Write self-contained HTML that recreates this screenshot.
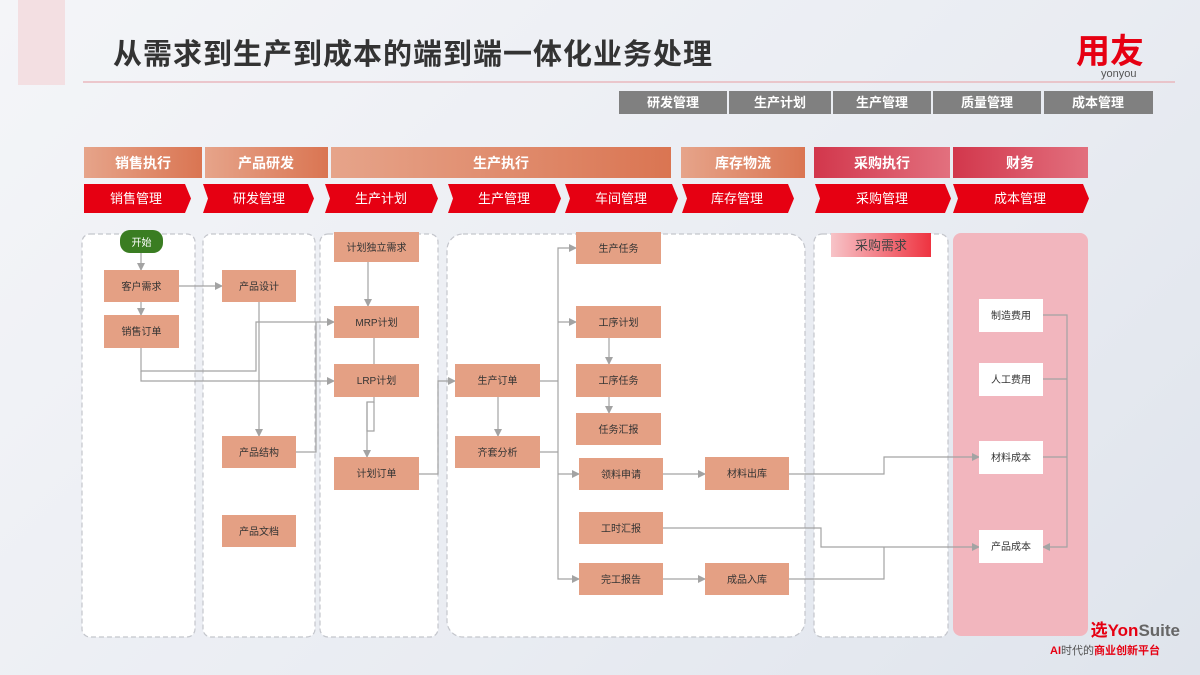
<!DOCTYPE html>
<html><head><meta charset="utf-8"><style>
html,body{margin:0;padding:0;width:1200px;height:675px;overflow:hidden;}
body{background:linear-gradient(135deg,#f4f5f8 0%,#e9ecf2 60%,#dfe4ec 100%);font-family:"Liberation Sans","Noto Sans CJK SC",sans-serif;}
svg text{font-family:"Liberation Sans","Noto Sans CJK SC",sans-serif;}
</style></head><body>
<svg width="1200" height="675" viewBox="0 0 1200 675" xmlns="http://www.w3.org/2000/svg">
<defs>
<linearGradient id="sal" x1="0" x2="1"><stop offset="0" stop-color="#e6a48a"/><stop offset="1" stop-color="#da7552"/></linearGradient>
<linearGradient id="pk" x1="0" x2="1"><stop offset="0" stop-color="#d2374c"/><stop offset="1" stop-color="#e2707e"/></linearGradient>
<linearGradient id="cg" x1="0" x2="1"><stop offset="0" stop-color="#f7c4c8"/><stop offset="1" stop-color="#ee3340"/></linearGradient>
<marker id="a" markerWidth="8" markerHeight="8" refX="7" refY="4" orient="auto" markerUnits="userSpaceOnUse"><path d="M0,0 L8,4 L0,8 z" fill="#a3a3a3"/></marker>
</defs>
<rect x="18" y="0" width="47" height="85" fill="#f3dfe2"/>
<text x="113" y="64" font-size="29" font-weight="bold" fill="#333" textLength="599" lengthAdjust="spacing">从需求到生产到成本的端到端一体化业务处理</text>
<line x1="83" y1="82" x2="1175" y2="82" stroke="#e9b8bd" stroke-width="1.5"/>
<text x="1076" y="63" font-size="34" font-weight="bold" fill="#e60012">用友</text>
<text x="1101" y="77" font-size="11" fill="#555">yonyou</text>
<g fill="#808080">
<rect x="619" y="91" width="108" height="23"/><rect x="729" y="91" width="102" height="23"/><rect x="833" y="91" width="98" height="23"/><rect x="933" y="91" width="108" height="23"/><rect x="1044" y="91" width="109" height="23"/></g>
<g fill="#fff" font-size="13" font-weight="bold" text-anchor="middle">
<text x="673" y="107">研发管理</text><text x="780" y="107">生产计划</text><text x="882" y="107">生产管理</text><text x="987" y="107">质量管理</text><text x="1098" y="107">成本管理</text></g>
<rect x="84" y="147" width="118" height="31" fill="url(#sal)"/><rect x="205" y="147" width="123" height="31" fill="url(#sal)"/><rect x="331" y="147" width="340" height="31" fill="url(#sal)"/><rect x="681" y="147" width="124" height="31" fill="url(#sal)"/><rect x="814" y="147" width="136" height="31" fill="url(#pk)"/><rect x="953" y="147" width="135" height="31" fill="url(#pk)"/>
<g fill="#fff" font-size="14" font-weight="bold" text-anchor="middle">
<text x="143" y="168">销售执行</text><text x="266" y="168">产品研发</text><text x="501" y="168">生产执行</text><text x="743" y="168">库存物流</text><text x="882" y="168">采购执行</text><text x="1020" y="168">财务</text></g>
<g fill="#e60012">
<path d="M84,184 H185 L191,198.5 L185,213 H84 z"/>
<path d="M203,184 H308 L314,198.5 L308,213 H203 L208,198.5 z"/>
<path d="M325,184 H432 L438,198.5 L432,213 H325 L330,198.5 z"/>
<path d="M448,184 H555 L561,198.5 L555,213 H448 L453,198.5 z"/>
<path d="M565,184 H672 L678,198.5 L672,213 H565 L570,198.5 z"/>
<path d="M682,184 H788 L794,198.5 L788,213 H682 L687,198.5 z"/>
<path d="M815,184 H945 L951,198.5 L945,213 H815 L820,198.5 z"/>
<path d="M953,184 H1083 L1089,198.5 L1083,213 H953 L958,198.5 z"/></g>
<g fill="#fff" font-size="13" text-anchor="middle">
<text x="136" y="203">销售管理</text><text x="259" y="203">研发管理</text><text x="381" y="203">生产计划</text><text x="504" y="203">生产管理</text><text x="621" y="203">车间管理</text><text x="737" y="203">库存管理</text><text x="882" y="203">采购管理</text><text x="1020" y="203">成本管理</text></g>
<g fill="#fff" stroke="#c4c6cc" stroke-dasharray="5,3" stroke-width="1.2">
<rect x="82" y="234" width="113" height="403" rx="8"/>
<rect x="203" y="234" width="112" height="403" rx="8"/>
<rect x="320" y="234" width="118" height="403" rx="8"/>
<rect x="447" y="234" width="358" height="403" rx="16"/>
<rect x="814" y="234" width="134" height="403" rx="8"/></g>
<rect x="953" y="233" width="135" height="403" rx="8" fill="#f2b6be"/>
<rect x="831" y="233" width="100" height="24" fill="url(#cg)"/>
<text x="881" y="250" font-size="13" text-anchor="middle" fill="#444">采购需求</text>
<g fill="none" stroke="#a3a3a3" stroke-width="1.2">
<path d="M141,253 V270" marker-end="url(#a)"/>
<path d="M141,302 V315" marker-end="url(#a)"/>
<path d="M179,286 H222" marker-end="url(#a)"/>
<path d="M141,348 V371 H256 V322 H334" marker-end="url(#a)"/>
<path d="M141,371 V381 H334" marker-end="url(#a)"/>
<path d="M259,302 V436" marker-end="url(#a)"/>
<path d="M296,452 H316 V322"/>
<path d="M368,262 V306" marker-end="url(#a)"/>
<path d="M374,338 V364"/>
<path d="M374,397 V402 H367 V457" marker-end="url(#a)"/>
<path d="M367,402 V431 H374 V402"/>
<path d="M419,474 H438 V381 H455" marker-end="url(#a)"/>
<path d="M540,381 H558"/>
<path d="M558,381 V248 H576" marker-end="url(#a)"/>
<path d="M558,322 H576" marker-end="url(#a)"/>
<path d="M558,381 V579 H579" marker-end="url(#a)"/>
<path d="M558,474 H579" marker-end="url(#a)"/>
<path d="M540,452 H558"/>
<path d="M498,397 V436" marker-end="url(#a)"/>
<path d="M609,338 V364" marker-end="url(#a)"/>
<path d="M609,397 V413" marker-end="url(#a)"/>
<path d="M663,474 H705" marker-end="url(#a)"/>
<path d="M663,579 H705" marker-end="url(#a)"/>
<path d="M789,474 H884 V457 H979" marker-end="url(#a)"/>
<path d="M663,528 H821 V547 H979" marker-end="url(#a)"/>
<path d="M789,579 H884 V547"/>
<path d="M1043,315 H1067 V547 H1043" marker-end="url(#a)"/>
<path d="M1043,379 H1067"/>
<path d="M1043,457 H1067"/>
</g>
<rect x="120" y="230" width="43" height="23" rx="10" fill="#3a7d22"/>
<text x="141.5" y="246" font-size="10" fill="#fff" text-anchor="middle">开始</text>
<g fill="#e4a084">
<rect x="104" y="270" width="75" height="32"/><rect x="104" y="315" width="75" height="33"/>
<rect x="222" y="270" width="74" height="32"/><rect x="222" y="436" width="74" height="32"/><rect x="222" y="515" width="74" height="32"/>
<rect x="334" y="232" width="85" height="30"/><rect x="334" y="306" width="85" height="32"/><rect x="334" y="364" width="85" height="33"/><rect x="334" y="457" width="85" height="33"/>
<rect x="455" y="364" width="85" height="33"/><rect x="455" y="436" width="85" height="32"/>
<rect x="576" y="232" width="85" height="32"/><rect x="576" y="306" width="85" height="32"/><rect x="576" y="364" width="85" height="33"/><rect x="576" y="413" width="85" height="32"/>
<rect x="579" y="458" width="84" height="32"/><rect x="579" y="512" width="84" height="32"/><rect x="579" y="563" width="84" height="32"/>
<rect x="705" y="457" width="84" height="33"/><rect x="705" y="563" width="84" height="32"/></g>
<g fill="#fff"><rect x="979" y="299" width="64" height="33"/><rect x="979" y="363" width="64" height="33"/><rect x="979" y="441" width="64" height="33"/><rect x="979" y="530" width="64" height="33"/></g>
<g font-size="10" fill="#333" text-anchor="middle">
<text x="141.5" y="290">客户需求</text><text x="141.5" y="335">销售订单</text>
<text x="259" y="290">产品设计</text><text x="259" y="456">产品结构</text><text x="259" y="535">产品文档</text>
<text x="376.5" y="251">计划独立需求</text><text x="376.5" y="326">MRP计划</text><text x="376.5" y="384">LRP计划</text><text x="376.5" y="477">计划订单</text>
<text x="497.5" y="384">生产订单</text><text x="497.5" y="456">齐套分析</text>
<text x="618.5" y="252">生产任务</text><text x="618.5" y="326">工序计划</text><text x="618.5" y="384">工序任务</text><text x="618.5" y="433">任务汇报</text>
<text x="621" y="478">领料申请</text><text x="621" y="532">工时汇报</text><text x="621" y="583">完工报告</text>
<text x="747" y="477">材料出库</text><text x="747" y="583">成品入库</text>
<text x="1011" y="319">制造费用</text><text x="1011" y="383">人工费用</text><text x="1011" y="461">材料成本</text><text x="1011" y="550">产品成本</text></g>
<text x="1180" y="636" font-size="17" font-weight="bold" fill="#666" text-anchor="end"><tspan fill="#e60012">选Yon</tspan>Suite</text>
<text x="1050" y="654" font-size="11" font-weight="bold" fill="#e60012">AI<tspan fill="#555" font-weight="normal">时代的</tspan>商业创新平台</text>
</svg>
</body></html>
